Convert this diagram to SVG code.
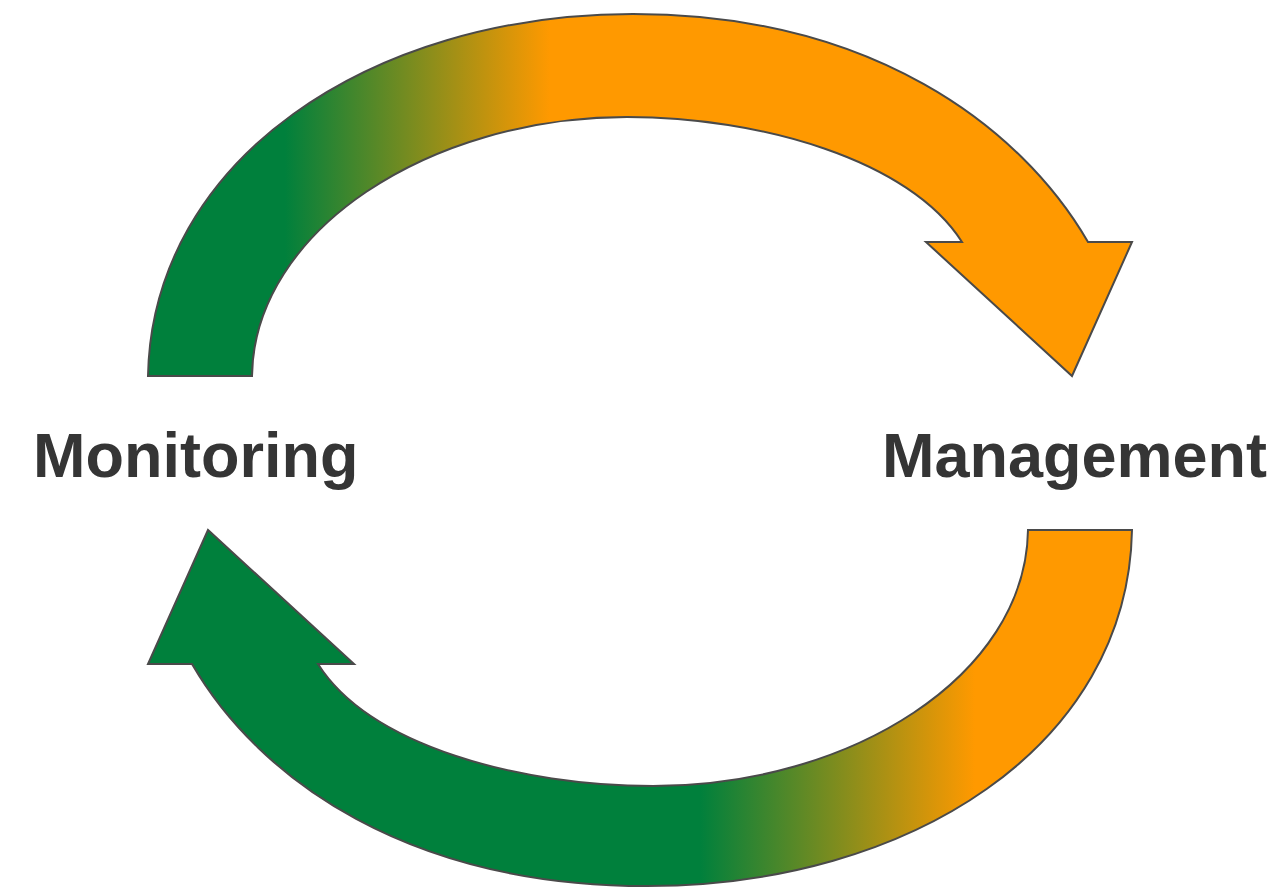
<svg xmlns="http://www.w3.org/2000/svg" width="1283" height="888" viewBox="0 0 1283 888">
  <defs>
    <linearGradient id="gradTop" gradientUnits="userSpaceOnUse" x1="285" y1="0" x2="550" y2="0">
      <stop offset="0" stop-color="#00803C"/>
      <stop offset="1" stop-color="#FF9900"/>
    </linearGradient>
    <linearGradient id="gradBottom" gradientUnits="userSpaceOnUse" x1="700" y1="0" x2="975" y2="0">
      <stop offset="0" stop-color="#00803C"/>
      <stop offset="1" stop-color="#FF9900"/>
    </linearGradient>
  </defs>
  <style>
    .arrow { stroke: #4a4a4a; stroke-width: 2; stroke-linejoin: miter; }
    .label { font-family: "Liberation Sans", Arial, sans-serif; font-weight: bold; font-size: 63px; fill: #353535; }
  </style>
  <rect width="1283" height="888" fill="#ffffff"/>
  <g id="connectors">
    <path id="arrow-top" class="arrow" fill="url(#gradTop)"
      d="M 148 376 C 152 160 370 14 633 14 C 870 14 1020 125 1088 242 L 1132 242 L 1072 376 L 926 242 L 962 242 C 910 160 760 117 627 117 C 430 117 254 230 252 376 Z"/>
    <path id="arrow-bottom" class="arrow" fill="url(#gradBottom)"
      d="M 1132 530 C 1128 746 910 886 647 886 C 410 886 260 781 192 664 L 148 664 L 208 530 L 354 664 L 318 664 C 370 746 520 786 653 786 C 850 786 1026 676 1028 530 Z"/>
  </g>
  <g id="node-monitoring">
    <text class="label" x="33" y="477">Monitoring</text>
  </g>
  <g id="node-management">
    <text class="label" x="882" y="477">Management</text>
  </g>
</svg>
